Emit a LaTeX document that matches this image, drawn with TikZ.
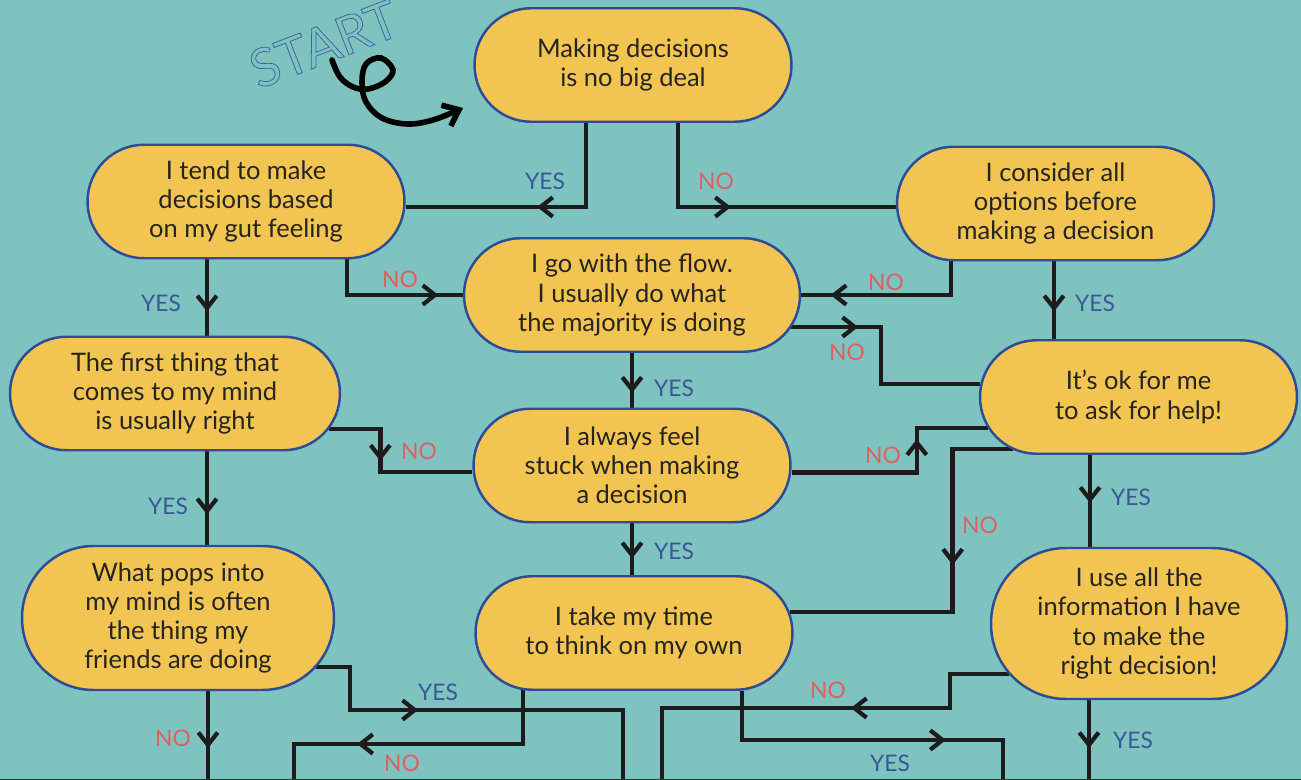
\documentclass[tikz,border=0pt]{standalone}
\usepackage{fontspec}
\setmainfont{Lato}
\usetikzlibrary{calc,arrows.meta,decorations.markings}
\definecolor{pond}{RGB}{127,195,192}
\definecolor{boxfill}{RGB}{242,196,82}
\definecolor{boxline}{RGB}{44,76,152}
\definecolor{ink}{RGB}{38,36,32}
\definecolor{wirecol}{RGB}{28,28,28}
\definecolor{yescol}{RGB}{58,88,152}
\definecolor{nocol}{RGB}{222,96,96}
\definecolor{startcol}{RGB}{60,100,160}
\newcommand\hollowtext[1]{\special{pdf:code 1 Tr 0.45 w}#1\special{pdf:code 0 Tr}}
\pgfdeclarelayer{back}
\pgfdeclarelayer{wires}
\pgfsetlayers{back,wires,main}
\tikzset{
	chev/.tip={Straight Barb[length=7pt,width=11pt,line width=2.4pt]},
	choice/.style={rectangle,rounded corners=1.13cm,draw=boxline,fill=boxfill,line width=1.4pt,
		align=center,text=ink,font=\fontsize{14.5}{16.6}\selectfont,inner sep=0pt,
		minimum width=6.34cm,minimum height=2.27cm},
	wire/.style={draw=wirecol,line width=2.6pt},
	link/.style={wire,postaction={decorate,decoration={markings,mark=at position #1 with {\arrow{chev}}}}},
	yeslbl/.style={text=yescol,font=\fontsize{13}{13}\selectfont,inner sep=1pt},
	nolbl/.style={text=nocol,font=\fontsize{13}{13}\selectfont,inner sep=1pt},
	}

\begin{document}
\begin{tikzpicture}[x=0.02cm,y=-0.02cm]
\useasboundingbox (0,0) rectangle (1301,780);
\begin{pgfonlayer}{back}
 \fill[pond] (0,0) rectangle (1301,780);
\end{pgfonlayer}

% start mark
\node[rotate=21,text=startcol,inner sep=0pt,font=\fontsize{30}{30}\selectfont] (start) at (324,44) {\hollowtext{START}};
\draw[line width=3.2pt,line cap=round,-{Straight Barb[length=8pt,width=13pt]}] plot[smooth,tension=0.6] coordinates {(332,60) (340,77) (353,87) (368,89) (385,82) (393,70) (381,58) (366,64) (362,82) (366,102) (382,118) (407,124) (433,120) (463,108)};

% questions
\node[choice] (deal) at (633,65) {Making decisions\\ is no big deal};
\node[choice] (gut) at (246,201.5) {I tend to make\\ decisions based\\ on my gut feeling};
\node[choice] (options) at (1055.5,203.5) {I consider all\\ options before\\ making a decision};
\node[choice,minimum width=6.72cm] (flow) at (632,295) {I go with the flow.\\ I usually do what\\ the majority is doing};
\node[choice,minimum width=6.6cm] (first) at (175,393.5) {The first thing that\\ comes to my mind\\ is usually right};
\node[choice] (help) at (1138.5,397) {It’s ok for me\\ to ask for help!};
\node[choice] (stuck) at (632,465.5) {I always feel\\ stuck when making\\ a decision};
\node[choice,minimum width=6.24cm,minimum height=2.88cm,rounded corners=1.43cm] (pops) at (178,618) {What pops into\\ my mind is often\\ the thing my\\ friends are doing};
\node[choice] (time) at (634,633) {I take my time\\ to think on my own};
\node[choice,minimum width=5.92cm,minimum height=3.02cm,rounded corners=1.5cm] (info) at (1139,623.5) {I use all the\\ information I have\\ to make the\\ right decision!};

% free ends at the bottom
\coordinate (exitA) at (208,780);
\coordinate (exitB) at (294,780);
\coordinate (exitC) at (623,780);
\coordinate (exitD) at (662,780);
\coordinate (exitE) at (1003,780);
\coordinate (exitF) at (1089,780);

\begin{pgfonlayer}{wires}
 \draw[link=2.66cm] ($(deal.south)+(-47,0)$) |- ($(gut.east)+(0,5.5)$);
 \draw[link=2.74cm] ($(deal.south)+(45,0)$) |- ($(options.west)+(0,3.5)$);
 \draw[link=1.04cm] ($(gut.south)+(-39,0)$) -- ($(first.north)+(32,0)$);
 \draw[link=2.54cm] ($(gut.south)+(101,0)$) |- (flow.west);
 \draw[link=3.08cm] ($(options.south)+(-104.5,0)$) |- (flow.east);
 \draw[link=1.0cm] ($(options.south)+(-1.5,0)$) -- ($(help.north)+(-84.5,0)$);
 \draw[link=1.34cm] ($(flow.east)+(-10,32)$) -| ($(help.west)+(-98,-13)$) -- ($(help.west)+(1,-13)$);
 \draw[link=0.8cm] (flow.south) -- (stuck.north);
 \draw[link=1.66cm] ($(first.east)+(-12,35.5)$) -| ($(stuck.west)+(-92,6.5)$) -- ($(stuck.west)+(0,6.5)$);
 \draw[link=1.26cm] ($(first.south)+(32,0)$) -- ($(pops.north)+(29,0)$);
 \draw[link=3.17cm] ($(stuck.east)+(0,7)$) -| ($(help.west)+(-62,31)$) -- ($(help.west)+(9,31)$);
 \draw[link=3.52cm] ($(help.west)+(34,52)$) -| ($(time.east)+(159,-21)$) -- ($(time.east)+(-4,-21)$);
 \draw[link=0.7cm] (stuck.south) -- ($(time.north)+(-2,0)$);
 \draw[link=0.96cm] ($(help.south)+(-48.5,0)$) -- ($(info.north)+(-49,0)$);
 \draw[link=1.14cm] ($(pops.south)+(30,0)$) -- (exitA);
 \draw[link=2.9cm] ($(pops.east)+(-19,49)$) -| ($(exitC)+(-273,-70)$) -| (exitC);
 \draw[link=4.4cm] ($(time.south)+(-111,-1)$) |- ($(exitB)+(0,-36)$) -- (exitB);
 \draw[link=5.06cm] ($(time.south)+(108,0)$) |- ($(exitE)+(0,-40)$) -- (exitE);
 \draw[link=3.85cm] ($(info.west)+(19.5,50.5)$) -| ($(exitD)+(288,-72)$) -| (exitD);
 \draw[link=0.96cm] ($(info.south)+(-50,0)$) -- (exitF);
\end{pgfonlayer}

% answers
\foreach \n/\x/\y in {yA/545/181,yC/161/303,yF/1095/303,yH/674/388,yJ/168/506,yM/674/551,yN/1131/497,yO/438/692,yS/890/763,yT/1133/740}
 \node[yeslbl] (\n) at (\x,\y) {YES};
\foreach \n/\x/\y in {nB/716/181,nD/400/279,nE/886/282,nG/847/352,nI/419/451,nK/883/455,nL/980/525,nP/402/763,nQ/173/738,nR/828/690}
 \node[nolbl] (\n) at (\x,\y) {NO};

\draw[black!80,line width=0.5pt] (0,779.5) -- (1301,779.5);
\end{tikzpicture}
\end{document}
